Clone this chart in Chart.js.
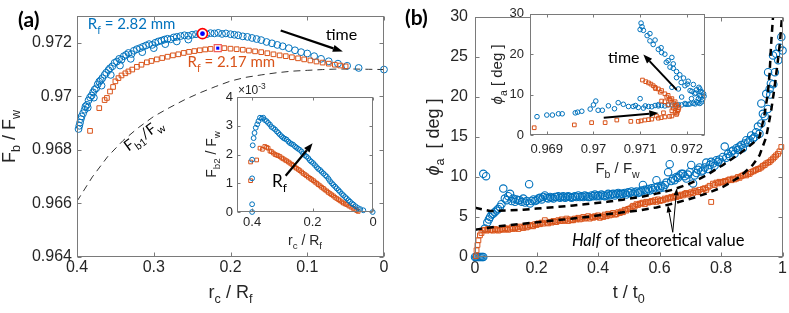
<!DOCTYPE html>
<html>
<head>
<meta charset="utf-8">
<script src="https://cdn.jsdelivr.net/npm/chart.js@4.4.0/dist/chart.umd.min.js"></script>
<style>
  html, body { margin: 0; padding: 0; background: #fff; }
  #wrap { position: relative; width: 789px; height: 313px; }
  canvas { position: absolute; left: 0; top: 0; }
</style>
</head>
<body>
<div id="wrap">
  <canvas id="chart-a" width="789" height="313"></canvas>
  <canvas id="chart-b" width="789" height="313"></canvas>
  <canvas id="inset-a" width="789" height="313"></canvas>
  <canvas id="inset-b" width="789" height="313"></canvas>
</div>
<script>
// ---- (a) F_b/F_w vs r_c/R_f ----
const rcBlue = [0.398,0.397,0.396,0.395,0.394,0.392,0.390,0.389,0.387,0.386,
  0.385,0.383,0.381,0.379,0.378,0.377,0.375,0.373,0.371,0.369,
  0.368,0.367,0.364,0.362,0.359,0.357,0.356,0.354,0.351,0.348,
  0.345,0.344,0.342,0.339,0.336,0.333,0.330,0.329,0.326,0.322,
  0.318,0.315,0.314,0.310,0.306,0.302,0.300,0.298,0.294,0.290,
  0.286,0.285,0.282,0.278,0.274,0.270,0.270,0.265,0.260,0.255,
  0.255,0.250,0.245,0.240,0.231,0.226,0.221,0.216,0.211,0.206,
  0.200,0.195,0.190,0.184,0.178,0.172,0.166,0.160,0.153,0.146,
  0.139,0.132,0.124,0.116,0.108,0.100,0.091,0.082,0.072,0.060,
  0.048,0.033,0.000];
const fbBlue = [0.96878,0.96890,0.96902,0.96915,0.96925,0.96937,0.96950,0.96962,0.96968,0.96958,
  0.96985,0.96996,0.97003,0.97015,0.96995,0.97025,0.97030,0.97045,0.97055,0.97060,
  0.97040,0.97068,0.97080,0.97088,0.97098,0.97105,0.97080,0.97112,0.97125,0.97130,
  0.97140,0.97115,0.97137,0.97150,0.97155,0.97162,0.97140,0.97158,0.97170,0.97176,
  0.97180,0.97165,0.97185,0.97190,0.97195,0.97192,0.97180,0.97200,0.97205,0.97208,
  0.97212,0.97195,0.97215,0.97213,0.97220,0.97222,0.97205,0.97225,0.97228,0.97226,
  0.97212,0.97230,0.97232,0.97233,0.97232,0.97236,0.97235,0.97237,0.97233,0.97235,
  0.97232,0.97230,0.97228,0.97224,0.97222,0.97218,0.97214,0.97210,0.97203,0.97198,
  0.97192,0.97187,0.97180,0.97172,0.97165,0.97160,0.97150,0.97140,0.97131,0.97122,
  0.97114,0.97106,0.97100];
const rcOrange = [0.383,0.371,0.364,0.361,0.357,0.353,0.350,0.346,0.342,0.337,
  0.333,0.328,0.322,0.316,0.309,0.303,0.296,0.289,0.282,0.275,
  0.268,0.261,0.254,0.247,0.240,0.233,0.226,0.208,0.200,0.192,
  0.184,0.176,0.168,0.160,0.152,0.144,0.136,0.128,0.120,0.112,
  0.104,0.096,0.088,0.080,0.072,0.064,0.057,0.050];
const fbOrange = [0.96871,0.96956,0.96986,0.96994,0.97018,0.97035,0.97056,0.97068,0.97078,0.97086,
  0.97093,0.97100,0.97110,0.97118,0.97127,0.97132,0.97138,0.97143,0.97148,0.97153,
  0.97157,0.97162,0.97166,0.97169,0.97172,0.97175,0.97177,0.97180,0.97178,0.97176,
  0.97174,0.97171,0.97168,0.97165,0.97161,0.97157,0.97153,0.97150,0.97146,0.97142,
  0.97138,0.97134,0.97130,0.97126,0.97122,0.97118,0.97115,0.97112];
const rcTheory = [0.40,0.38,0.36,0.34,0.32,0.30,0.28,0.26,0.24,0.22,0.20,0.18,0.16,0.14,0.12,0.10,0.08,0.06,0.04,0.02,0.00];
const fbTheory = [0.96608,0.96699,0.96775,0.96835,0.96883,0.96925,0.96957,0.96987,0.97013,0.97036,0.97057,
  0.97071,0.97080,0.97088,0.97094,0.97097,0.97100,0.97102,0.97102,0.97101,0.97100];
const markRc = [0.2365, 0.2166];
const markFb = [0.97234, 0.97180];
const aXTicks = [0.4, 0.3, 0.2, 0.1, 0];
const aXLabels = ['0.4', '0.3', '0.2', '0.1', '0'];
const aYTicks = [0.964, 0.966, 0.968, 0.970, 0.972];
const aYLabels = ['0.964', '0.966', '0.968', '0.97', '0.972'];

// ---- inset of (a): F_b2/F_w (x1e-3) ----
const insRcBlue = [0.4,0.4,0.4,0.4,0.398,0.395,0.392,0.388,0.383,0.379,
  0.374,0.368,0.363,0.358,0.352,0.347,0.341,0.336,0.33,0.324,
  0.318,0.313,0.308,0.302,0.297,0.292,0.286,0.28,0.275,0.27,
  0.264,0.258,0.253,0.248,0.242,0.236,0.231,0.226,0.22,0.214,
  0.209,0.204,0.198,0.192,0.186,0.181,0.175,0.17,0.164,0.158,
  0.153,0.147,0.142,0.136,0.131,0.125,0.12,0.114,0.109,0.103,
  0.098,0.092,0.087,0.081,0.076,0.07,0.065,0.058,0.05,0.042,
  0.032,0.001];
const insFb2Blue = [0,0.27,1.17,1.82,2.32,2.57,2.75,2.93,3.05,3.16,
  3.28,3.25,3.28,3.2,3.16,3.1,3.04,2.96,2.92,2.87,
  2.8,2.75,2.69,2.63,2.58,2.55,2.52,2.45,2.4,2.37,
  2.34,2.28,2.24,2.2,2.16,2.1,2.02,1.98,1.93,1.87,
  1.8,1.75,1.7,1.63,1.56,1.5,1.46,1.4,1.34,1.28,
  1.23,1.15,1.07,1.0,0.94,0.88,0.82,0.76,0.7,0.63,
  0.58,0.52,0.47,0.41,0.36,0.3,0.26,0.2,0.14,0.1,
  0.06,0];
const insRcOrange = [0.405,0.405,0.385,0.374,0.366,0.358,0.352,0.347,0.341,0.336,
  0.33,0.324,0.319,0.314,0.308,0.302,0.297,0.291,0.286,0.28,
  0.275,0.269,0.264,0.258,0.253,0.247,0.242,0.236,0.231,0.225,
  0.22,0.214,0.208,0.203,0.197,0.192,0.186,0.181,0.175,0.17,
  0.164,0.159,0.153,0.148,0.142,0.137,0.131,0.126,0.12,0.114,
  0.109,0.103,0.098,0.092,0.087,0.08,0.073,0.066,0.06,0.054,
  0.049];
const insFb2Orange = [1.09,1.74,1.81,2.22,2.18,2.28,2.25,2.22,2.12,2.1,
  2.05,2.0,1.98,1.96,1.93,1.88,1.85,1.81,1.78,1.74,
  1.7,1.66,1.62,1.56,1.52,1.48,1.44,1.39,1.34,1.3,
  1.26,1.21,1.17,1.13,1.09,1.04,1.0,0.95,0.91,0.86,
  0.82,0.77,0.73,0.68,0.64,0.6,0.56,0.51,0.47,0.43,
  0.39,0.35,0.31,0.28,0.26,0.21,0.17,0.13,0.09,0.05,
  0.02];
const insAXTicks = [0.4, 0.2, 0];
const insAXLabels = ['0.4', '0.2', '0'];
const insAYTicks = [0, 1, 2, 3, 4];
const insAYLabels = ['0', '1', '2', '3', '4'];

// ---- (b) phi_a vs t/t0 ----
const tBlue = [0,0.004,0.008,0.012,0.016,0.02,0.024,0.027,0.027,0.036,
  0.032,0.04,0.045,0.049,0.054,0.059,0.064,0.07,0.075,0.081,
  0.086,0.092,0.097,0.103,0.108,0.114,0.119,0.124,0.13,0.135,
  0.141,0.146,0.152,0.157,0.163,0.168,0.176,0.179,0.184,0.19,
  0.195,0.2,0.206,0.211,0.217,0.222,0.227,0.233,0.238,0.244,
  0.249,0.255,0.26,0.265,0.271,0.276,0.282,0.287,0.293,0.298,
  0.303,0.309,0.314,0.319,0.325,0.33,0.336,0.341,0.347,0.352,
  0.357,0.363,0.368,0.373,0.379,0.384,0.39,0.395,0.4,0.406,
  0.411,0.417,0.422,0.428,0.433,0.438,0.444,0.449,0.455,0.46,
  0.466,0.471,0.476,0.481,0.487,0.492,0.498,0.503,0.509,0.514,
  0.519,0.525,0.53,0.536,0.541,0.546,0.552,0.557,0.563,0.568,
  0.574,0.579,0.585,0.59,0.595,0.601,0.606,0.612,0.617,0.622,
  0.628,0.633,0.638,0.644,0.649,0.655,0.66,0.665,0.671,0.676,
  0.682,0.687,0.692,0.698,0.703,0.709,0.714,0.72,0.725,0.73,
  0.736,0.741,0.747,0.752,0.757,0.763,0.768,0.774,0.779,0.785,
  0.79,0.795,0.801,0.806,0.812,0.817,0.823,0.828,0.834,0.839,
  0.844,0.85,0.855,0.86,0.866,0.871,0.877,0.882,0.888,0.893,
  0.898,0.904,0.909,0.914,0.92,0.925,0.931,0.931,0.936,0.942,
  0.947,0.952,0.953,0.958,0.96,0.962,0.969,0.97,0.975,0.979,
  0.986,0.99,0.996,1.0];
const phiBlue = [0,0,0,0,0,0,0,0,10.4,10.1,
  3.55,4.3,4.7,5.0,5.3,5.4,5.6,5.8,6.0,6.25,
  6.6,8.55,7.3,7.1,7.6,7.9,7.0,7.3,6.9,7.2,
  7.1,7.1,6.9,7.3,6.8,7.0,9.1,6.7,7.0,7.2,
  7.0,7.1,7.3,7.4,7.2,7.5,7.7,7.4,7.3,7.5,
  7.4,7.3,7.5,7.5,7.6,7.4,7.5,7.6,7.4,7.5,
  7.6,7.5,7.4,7.5,7.6,7.5,7.7,7.5,7.6,7.5,
  7.7,7.6,7.5,7.5,7.7,7.6,7.8,7.6,7.7,7.6,
  7.8,7.7,7.6,7.7,7.9,7.7,7.8,7.9,7.7,7.9,
  8.0,7.8,7.9,7.9,8.0,7.8,8.1,8.0,8.2,7.9,
  8.1,8.2,8.0,8.1,8.3,9.0,8.4,8.2,8.5,8.3,
  8.6,8.4,8.7,9.6,8.8,8.6,8.9,8.7,9.0,9.3,
  10.6,11.6,9.5,9.8,9.6,10.0,9.9,10.2,10.4,10.4,
  10.1,9.8,10.3,10.6,11.5,9.2,10.2,10.5,10.9,11.2,
  10.7,10.8,11.2,11.8,11.0,11.5,11.9,11.7,11.4,12.1,
  11.9,12.2,11.8,12.5,13.8,12.4,12.9,12.6,13.2,13.3,
  12.9,13.6,13.4,13.8,14.0,13.6,14.2,14.6,14.3,14.6,
  15.2,14.8,15.0,15.6,16.3,15.4,16.7,19.2,17.9,17.6,
  20.4,18.5,23.1,21.0,20.3,21.7,25.2,21.6,23.1,25.4,
  24.6,26.2,27.5,25.8];
const tOrange = [0.003,0.005,0.008,0.011,0.016,0.021,0.027,0.032,0.038,0.043,
  0.049,0.054,0.059,0.065,0.07,0.076,0.081,0.087,0.092,0.098,
  0.103,0.108,0.114,0.119,0.124,0.13,0.135,0.141,0.146,0.152,
  0.157,0.163,0.168,0.173,0.179,0.184,0.189,0.195,0.2,0.206,
  0.211,0.217,0.222,0.227,0.233,0.238,0.244,0.249,0.255,0.26,
  0.265,0.271,0.276,0.282,0.287,0.293,0.298,0.303,0.309,0.314,
  0.319,0.325,0.33,0.336,0.341,0.347,0.352,0.357,0.363,0.368,
  0.373,0.379,0.384,0.39,0.395,0.4,0.406,0.411,0.417,0.422,
  0.428,0.433,0.438,0.444,0.449,0.455,0.46,0.466,0.471,0.476,
  0.481,0.487,0.492,0.498,0.503,0.509,0.514,0.519,0.525,0.53,
  0.536,0.541,0.546,0.552,0.557,0.563,0.568,0.574,0.579,0.585,
  0.59,0.595,0.601,0.606,0.611,0.617,0.622,0.628,0.633,0.638,
  0.644,0.649,0.655,0.66,0.665,0.671,0.676,0.682,0.687,0.692,
  0.698,0.703,0.709,0.714,0.72,0.725,0.73,0.736,0.741,0.747,
  0.752,0.757,0.763,0.768,0.774,0.779,0.785,0.79,0.795,0.801,
  0.806,0.812,0.817,0.823,0.828,0.834,0.839,0.844,0.85,0.855,
  0.86,0.866,0.871,0.877,0.882,0.888,0.893,0.898,0.904,0.909,
  0.914,0.92,0.925,0.931,0.936,0.942,0.947,0.953,0.958,0.963,
  0.969,0.974,0.979,0.985,0.99,0.996];
const phiOrange = [0.1,0.84,1.5,2.09,2.71,3.0,3.34,3.4,3.3,3.5,
  3.34,3.4,3.3,3.5,3.4,3.3,3.42,3.5,3.4,3.6,
  3.5,3.4,3.55,3.7,3.5,3.6,3.7,3.5,3.8,3.7,
  3.63,3.9,3.7,3.8,4.0,3.9,3.84,4.1,4.0,4.2,
  4.1,4.3,4.17,4.6,4.3,4.2,4.4,4.3,4.5,4.4,
  4.38,4.6,4.5,4.7,4.5,4.6,4.8,4.5,4.7,4.6,
  4.59,4.8,4.7,4.9,4.7,4.8,5.0,4.8,4.9,5.1,
  4.8,5.0,4.9,5.1,5.0,5.2,4.9,5.1,5.0,5.3,
  5.1,5.4,5.2,5.3,5.5,5.3,5.34,5.6,5.5,5.7,
  5.6,5.9,5.8,6.0,6.05,6.2,6.4,6.3,6.6,6.5,
  6.67,6.7,6.8,6.6,6.9,6.8,6.88,7.0,6.9,7.1,
  6.9,7.2,7.0,7.1,7.09,7.3,7.2,7.4,7.3,7.5,
  7.4,7.6,7.5,7.7,7.6,7.8,7.7,7.9,8.0,7.8,
  7.92,8.1,8.0,8.3,8.2,8.1,8.4,8.13,8.5,8.6,
  8.4,8.7,8.9,6.88,9.17,9.0,9.3,9.2,9.4,9.3,
  9.38,9.5,9.4,9.6,9.7,9.6,9.8,9.7,9.8,10.0,
  9.9,10.1,10.2,10.3,10.2,10.4,10.4,10.6,10.7,10.8,
  10.9,11.0,11.05,11.2,11.4,11.5,11.7,11.8,11.9,12.1,
  12.3,12.5,12.7,12.9,13.2,13.75];
const tHalfUpper = [0,0.049,0.1,0.157,0.2,0.265,0.32,0.373,0.43,0.481,0.54,0.59,0.644,0.698,0.752,0.806,0.86,0.903,0.925,0.94,0.952,0.958,0.963,0.969];
const phiHalfUpper = [6.17,5.75,5.8,5.92,6.05,6.25,6.45,6.67,6.9,7.17,7.5,7.92,8.42,9.17,10.2,11.5,12.9,14.2,15.0,17.5,20.4,23.0,26.7,30];
const tHalfLower = [0,0.05,0.103,0.157,0.211,0.265,0.319,0.373,0.428,0.481,0.536,0.59,0.644,0.698,0.752,0.806,0.86,0.903,0.925,0.947,0.963,0.975,0.985,0.992,0.998];
const phiHalfLower = [3.42,3.7,3.96,4.17,4.38,4.59,4.8,5.05,5.34,5.58,5.84,6.2,6.67,7.25,7.92,8.75,10.0,11.5,12.7,15.0,18.3,21.5,24.6,27.0,30];
const bXTicks = [0, 0.2, 0.4, 0.6, 0.8, 1];
const bXLabels = ['0', '0.2', '0.4', '0.6', '0.8', '1'];
const bYTicks = [0, 5, 10, 15, 20, 25, 30];
const bYLabels = ['0', '5', '10', '15', '20', '25', '30'];

// ---- inset of (b): phi_a vs F_b/F_w ----
const insFbBlue = [0.96879,0.969,0.96912,0.96925,0.96933,0.96961,0.96966,0.96975,0.96993,0.97,
  0.97005,0.9701,0.97019,0.97032,0.97045,0.97053,0.97064,0.97075,0.97085,0.97096,
  0.971,0.97107,0.97118,0.97132,0.97146,0.9716,0.97175,0.97189,0.97203,0.97214,
  0.97221,0.97225,0.97228,0.9723,0.97226,0.97221,0.97214,0.97207,0.97203,0.97193,
  0.97196,0.97185,0.97178,0.97171,0.97171,0.97168,0.9716,0.97153,0.97146,0.97145,
  0.97132,0.97121,0.97121,0.97107,0.971,0.97102,0.97168,0.97182,0.97189,0.9721,
  0.97232,0.97125,0.97139,0.97153,0.97196,0.97217,0.97229,0.97236,0.97234,0.97237,
  0.97233,0.97228,0.97219,0.97211,0.97224,0.97228,0.97218,0.97207,0.97198,0.97182,
  0.97168,0.97139,0.97111,0.9709,0.97201,0.97188,0.97178,0.97164,0.97156,0.97139,
  0.97128,0.97115,0.97104];
const insPhiBlue = [4.54,4.94,4.94,5.25,5.25,5.48,5.65,5.88,6.42,7.45,
  8.4,6.12,6.12,7.22,6.5,8.0,7.6,7.06,7.06,6.82,
  9.0,6.66,7.06,7.3,7.3,7.45,7.45,7.45,7.6,7.84,
  8.24,9.0,9.8,10.75,11.8,11.2,12.5,11.0,13.3,14.1,
  12.2,14.9,15.7,16.5,17.6,19.2,18.4,20.0,20.4,21.6,
  23.5,23.3,25.1,25.9,26.1,27.7,11.8,11.4,9.4,9.0,
  8.2,7.0,7.5,7.2,7.8,10.2,9.4,10.2,8.8,9.6,
  10.6,11.4,10.4,10.8,8.0,7.8,7.7,7.7,7.6,7.5,
  7.4,7.2,7.2,7.3,12.6,13.0,14.2,16.8,18.0,21.2,
  22.4,24.6,26.8];
const insFbOrange = [0.96873,0.96959,0.96996,0.97025,0.9705,0.9708,0.97096,0.9711,0.97125,0.97139,
  0.97153,0.97168,0.97178,0.97182,0.97178,0.97175,0.97168,0.9716,0.97153,0.97146,
  0.97139,0.97128,0.97118,0.97105,0.97171,0.9716,0.97153,0.97146,0.97168,0.9715,
  0.97135,0.97175,0.9718,0.97165,0.97112,0.97132,0.97179,0.97183,0.97176,0.97172,
  0.97163,0.97157,0.97143,0.97133,0.97123,0.97163,0.97145,0.97118,0.97102];
const insPhiOrange = [1.8,2.5,3.06,3.06,3.7,3.37,3.37,3.7,3.93,4.16,
  4.47,4.7,5.1,6.28,7.45,8.24,9.0,9.8,10.2,11.0,
  11.4,12.2,12.9,13.6,6.66,7.45,8.24,8.4,6.0,5.5,
  4.7,5.6,5.9,8.6,13.2,11.8,5.4,6.8,7.0,7.9,
  8.9,9.4,10.6,11.5,12.6,4.6,4.3,3.8,3.5];
const insBXTicks = [0.969, 0.970, 0.971, 0.972];
const insBXLabels = ['0.969', '0.97', '0.971', '0.972'];
const insBYTicks = [0, 10, 20, 30];
const insBYLabels = ['0', '10', '20', '30'];

document.addEventListener('DOMContentLoaded', function() {
    const W = 789, H = 313;
    const BLUE = '#0072BD', ORANGE = '#D95319', INK = '#262626';
    const SANS = '"Liberation Sans", Arial, sans-serif';
    const CAL = 'Lato, "Open Sans", sans-serif';

    function pts(xs, ys) {
        return xs.map((x, i) => ({ x: x, y: ys[i] }));
    }

    // text with sub/superscripts and italics: parts = [[text, kind]]
    function drawRich(ctx, parts, x, y, o) {
        const size = o.size;
        const fontFor = k => {
            const s = (k === 'sub' || k === 'sup') ? size * 0.7 : size;
            const st = (k === 'i' || o.italic) ? 'italic ' : '';
            return st + (o.weight || 'normal') + ' ' + s + 'px ' + o.family;
        };
        let w = 0;
        parts.forEach(p => { ctx.font = fontFor(p[1]); w += ctx.measureText(p[0]).width; });
        let cx = o.align === 'center' ? x - w / 2 : x;
        ctx.fillStyle = o.color || INK;
        ctx.textAlign = 'left';
        ctx.textBaseline = 'alphabetic';
        parts.forEach(p => {
            ctx.font = fontFor(p[1]);
            const dy = p[1] === 'sub' ? size * 0.3 : (p[1] === 'sup' ? -size * 0.4 : 0);
            ctx.fillText(p[0], cx, y + dy);
            cx += ctx.measureText(p[0]).width;
        });
    }

    function drawRotated(ctx, parts, x, y, angle, o) {
        ctx.save();
        ctx.translate(x, y);
        ctx.rotate(angle);
        drawRich(ctx, parts, 0, 0, Object.assign({ align: 'center' }, o));
        ctx.restore();
    }

    function arrow(ctx, x1, y1, x2, y2, lw, hl, hw) {
        const a = Math.atan2(y2 - y1, x2 - x1);
        const bx = x2 - hl * Math.cos(a), by = y2 - hl * Math.sin(a);
        ctx.save();
        ctx.strokeStyle = '#000';
        ctx.fillStyle = '#000';
        ctx.lineWidth = lw;
        ctx.beginPath();
        ctx.moveTo(x1, y1);
        ctx.lineTo(bx, by);
        ctx.stroke();
        ctx.beginPath();
        ctx.moveTo(x2, y2);
        ctx.lineTo(bx + hw / 2 * Math.sin(a), by - hw / 2 * Math.cos(a));
        ctx.lineTo(bx - hw / 2 * Math.sin(a), by + hw / 2 * Math.cos(a));
        ctx.closePath();
        ctx.fill();
        ctx.restore();
    }

    function scaleOpts(s, isX, size) {
        return {
            type: 'linear', min: s.min, max: s.max, reverse: !!s.reverse,
            grid: { display: false, drawTicks: false },
            border: { display: false },
            ticks: {
                padding: s.pad, color: INK, maxRotation: 0, autoSkip: false,
                font: { family: SANS, size: s.font },
                callback: (v, i) => s.labels[i]
            },
            afterBuildTicks: sc => { sc.ticks = s.ticks.map(v => ({ value: v })); },
            afterFit: sc => { if (isX) sc.height = size; else sc.width = size; }
        };
    }

    // MATLAB-like box with inward ticks on all sides
    function framePlugin(tickLen, whiteFill) {
        return {
            id: 'frame',
            beforeDraw(chart) {
                if (!whiteFill) return;
                const a = chart.chartArea;
                chart.ctx.save();
                chart.ctx.fillStyle = '#fff';
                chart.ctx.fillRect(a.left, a.top, a.right - a.left, a.bottom - a.top);
                chart.ctx.restore();
            },
            afterDatasetsDraw(chart) {
                const { ctx, chartArea: a, scales } = chart;
                const L = Math.round(a.left) + 0.5, R = Math.round(a.right) - 0.5;
                const T = Math.round(a.top) + 0.5, B = Math.round(a.bottom) - 0.5;
                ctx.save();
                ctx.strokeStyle = '#7a7a7a';
                ctx.lineWidth = 1;
                ctx.strokeRect(L, T, R - L, B - T);
                ctx.beginPath();
                scales.x.ticks.forEach(t => {
                    const p = Math.round(scales.x.getPixelForValue(t.value)) + 0.5;
                    ctx.moveTo(p, B); ctx.lineTo(p, B - tickLen);
                    ctx.moveTo(p, T); ctx.lineTo(p, T + tickLen);
                });
                scales.y.ticks.forEach(t => {
                    const p = Math.round(scales.y.getPixelForValue(t.value)) + 0.5;
                    ctx.moveTo(L, p); ctx.lineTo(L + tickLen, p);
                    ctx.moveTo(R, p); ctx.lineTo(R - tickLen, p);
                });
                ctx.stroke();
                ctx.restore();
            }
        };
    }

    function buildChart(id, cfg) {
        const b = cfg.box;
        return new Chart(document.getElementById(id), {
            type: 'scatter',
            data: { datasets: cfg.datasets },
            options: {
                responsive: false,
                animation: false,
                devicePixelRatio: 1,
                layout: { padding: { left: b.left - b.yw, right: W - b.right, top: b.top, bottom: H - b.bottom - b.xh } },
                plugins: { legend: { display: false }, tooltip: { enabled: false } },
                scales: { x: scaleOpts(cfg.x, true, b.xh), y: scaleOpts(cfg.y, false, b.yw) }
            },
            plugins: [framePlugin(cfg.tick, cfg.white), { id: 'notes', afterDraw: cfg.notes }]
        });
    }

    function markers(data, color, style, r, lw) {
        return { data: data, pointStyle: style, pointRadius: r, borderColor: color, borderWidth: lw || 1,
                 backgroundColor: 'rgba(0,0,0,0)', showLine: false, clip: 10 };
    }

    function dashed(data, color, lw, dash) {
        return { data: data, showLine: true, pointRadius: 0, borderColor: color, borderWidth: lw,
                 borderDash: dash, fill: false, tension: 0, clip: 0 };
    }

    // Panel (a)
    function createPanelA() {
        buildChart('chart-a', {
            box: { left: 77, right: 384, top: 16, bottom: 257, yw: 70, xh: 50 },
            x: { min: 0, max: 0.4, reverse: true, ticks: aXTicks, labels: aXLabels, pad: 1, font: 16 },
            y: { min: 0.964, max: 0.973, ticks: aYTicks, labels: aYLabels, pad: 5, font: 16 },
            tick: 4,
            datasets: [
                { data: [{ x: markRc[0], y: markFb[0] }], pointStyle: 'circle', pointRadius: 2.4,
                  backgroundColor: '#0000FF', borderWidth: 0, clip: 10 },
                { data: [{ x: markRc[0], y: markFb[0] }], pointStyle: 'circle', pointRadius: 5,
                  backgroundColor: '#fff', borderColor: '#FF0000', borderWidth: 1.6, clip: 10 },
                { data: [{ x: markRc[1], y: markFb[1] }], pointStyle: 'rect', pointRadius: 2.2,
                  backgroundColor: '#0000FF', borderWidth: 0, clip: 10 },
                { data: [{ x: markRc[1], y: markFb[1] }], pointStyle: 'rect', pointRadius: 5,
                  backgroundColor: '#fff', borderColor: '#F05A5A', borderWidth: 1.2, clip: 10 },
                markers(pts(rcOrange, fbOrange), ORANGE, 'rect', 3.3),
                markers(pts(rcBlue, fbBlue), BLUE, 'circle', 3.4),
                dashed(pts(rcTheory, fbTheory), '#333', 1, [7, 5])
            ],
            notes(chart) {
                const { ctx, chartArea: a, scales: { x, y } } = chart;
                const P = (u, v) => [x.getPixelForValue(u), y.getPixelForValue(v)];
                drawRich(ctx, [['(a)', '']], 18, 27, { size: 21, family: CAL, weight: 'bold', color: '#000' });
                let p = P(0.386, 0.9725);
                drawRich(ctx, [['R', ''], ['f', 'sub'], [' = 2.82 mm', '']], p[0], p[1], { size: 15, family: CAL, color: BLUE });
                p = P(0.256, 0.97109);
                drawRich(ctx, [['R', ''], ['f', 'sub'], [' = 2.17 mm', '']], p[0], p[1], { size: 15, family: CAL, color: ORANGE });
                p = P(0.076, 0.97209);
                drawRich(ctx, [['time', '']], p[0], p[1], { size: 16, family: CAL, color: '#000' });
                const s = P(0.1346, 0.97246), e = P(0.0536, 0.97167);
                arrow(ctx, s[0], s[1], e[0], e[1], 2.2, 10, 7);
                p = P(0.3137, 0.96856);
                ctx.save();
                ctx.translate(p[0], p[1]);
                ctx.rotate(-36 * Math.PI / 180);
                drawRich(ctx, [['F', ''], ['b1', 'sub'], ['/F', ''], ['w', 'sub']], 0, 5, { size: 15, family: CAL, color: '#000', align: 'center' });
                ctx.restore();
                const cx = (a.left + a.right) / 2, cy = (a.top + a.bottom) / 2;
                drawRich(ctx, [['r', ''], ['c', 'sub'], [' / R', ''], ['f', 'sub']], cx, a.bottom + 41, { size: 18, family: SANS, align: 'center' });
                drawRotated(ctx, [['F', ''], ['b', 'sub'], [' / F', ''], ['w', 'sub']], a.left - 62, cy, -Math.PI / 2, { size: 18, family: SANS });
            }
        });
    }

    // Inset of (a)
    function createInsetA() {
        buildChart('inset-a', {
            box: { left: 237, right: 373, top: 97, bottom: 212, yw: 20, xh: 20 },
            x: { min: 0, max: 0.45, reverse: true, ticks: insAXTicks, labels: insAXLabels, pad: 3, font: 13 },
            y: { min: 0, max: 4, ticks: insAYTicks, labels: insAYLabels, pad: 4, font: 13 },
            tick: 3,
            white: true,
            datasets: [
                markers(pts(insRcBlue, insFb2Blue), BLUE, 'circle', 2.4),
                markers(pts(insRcOrange, insFb2Orange), ORANGE, 'rect', 2.6)
            ],
            notes(chart) {
                const { ctx, chartArea: a, scales: { x, y } } = chart;
                const P = (u, v) => [x.getPixelForValue(u), y.getPixelForValue(v)];
                let p = P(0.447, 4.11);
                drawRich(ctx, [['\u00d710', ''], ['-3', 'sup']], p[0], p[1], { size: 12, family: SANS });
                const s = P(0.289, 1.26), e = P(0.2, 2.39);
                arrow(ctx, s[0], s[1], e[0], e[1], 2.2, 9, 7);
                p = P(0.334, 0.86);
                drawRich(ctx, [['R', ''], ['f', 'sub']], p[0], p[1], { size: 17, family: CAL, color: '#000' });
                const cx = (a.left + a.right) / 2, cy = (a.top + a.bottom) / 2;
                drawRich(ctx, [['r', ''], ['c', 'sub'], [' / R', ''], ['f', 'sub']], cx, a.bottom + 33, { size: 14, family: SANS, align: 'center' });
                drawRotated(ctx, [['F', ''], ['b2', 'sub'], [' / F', ''], ['w', 'sub']], a.left - 21, cy, -Math.PI / 2, { size: 14, family: SANS });
            }
        });
    }

    // Panel (b)
    function createPanelB() {
        buildChart('chart-b', {
            box: { left: 475, right: 783, top: 17, bottom: 257, yw: 40, xh: 50 },
            x: { min: 0, max: 1, ticks: bXTicks, labels: bXLabels, pad: 2, font: 16 },
            y: { min: 0, max: 30, ticks: bYTicks, labels: bYLabels, pad: 7, font: 16 },
            tick: 4,
            datasets: [
                dashed(pts(tHalfUpper, phiHalfUpper), '#000', 2.5, [7, 5]),
                dashed(pts(tHalfLower, phiHalfLower), '#000', 2.5, [7, 5]),
                markers(pts(tOrange, phiOrange), ORANGE, 'rect', 3.4),
                markers(pts(tBlue, phiBlue), BLUE, 'circle', 3.7, 1.1)
            ],
            notes(chart) {
                const { ctx, chartArea: a, scales: { x, y } } = chart;
                const P = (u, v) => [x.getPixelForValue(u), y.getPixelForValue(v)];
                drawRich(ctx, [['(b)', '']], 405, 25, { size: 21, family: CAL, weight: 'bold', color: '#000' });
                let p = P(0.315, 1.34);
                drawRich(ctx, [['Half', 'i'], [' of theoretical value', '']], p[0], p[1], { size: 16.5, family: CAL, color: '#000' });
                const s = P(0.643, 3.09), e1 = P(0.627, 6.46), e2 = P(0.656, 8.59);
                arrow(ctx, s[0], s[1], e1[0], e1[1], 1, 7, 5);
                arrow(ctx, s[0], s[1], e2[0], e2[1], 1, 7, 5);
                const cx = (a.left + a.right) / 2, cy = (a.top + a.bottom) / 2;
                drawRich(ctx, [['t / t', ''], ['0', 'sub']], cx, a.bottom + 41, { size: 18, family: SANS, align: 'center' });
                drawRotated(ctx, [['\u03d5', 'i'], ['a', 'sub'], ['  [ deg ]', '']], a.left - 36, cy, -Math.PI / 2, { size: 18, family: SANS });
            }
        });
    }

    // Inset of (b)
    function createInsetB() {
        buildChart('inset-b', {
            box: { left: 530, right: 705, top: 7, bottom: 135, yw: 25, xh: 25 },
            x: { min: 0.96864, max: 0.97239, ticks: insBXTicks, labels: insBXLabels, pad: 7, font: 13 },
            y: { min: 0, max: 30, ticks: insBYTicks, labels: insBYLabels, pad: 6, font: 13 },
            tick: 3,
            white: true,
            datasets: [
                markers(pts(insFbOrange, insPhiOrange), ORANGE, 'rect', 2.6),
                markers(pts(insFbBlue, insPhiBlue), BLUE, 'circle', 2.3)
            ],
            notes(chart) {
                const { ctx, chartArea: a, scales: { x, y } } = chart;
                const P = (u, v) => [x.getPixelForValue(u), y.getPixelForValue(v)];
                let p = P(0.970313, 17.8);
                drawRich(ctx, [['time', '']], p[0], p[1], { size: 16, family: CAL, color: '#000' });
                let s = P(0.971784, 11.17), e = P(0.971069, 19.9);
                arrow(ctx, s[0], s[1], e[0], e[1], 2, 9, 7);
                s = P(0.97022, 4.29); e = P(0.97139, 5.46);
                arrow(ctx, s[0], s[1], e[0], e[1], 2, 9, 7);
                const cx = (a.left + a.right) / 2, cy = (a.top + a.bottom) / 2;
                drawRich(ctx, [['F', ''], ['b', 'sub'], [' / F', ''], ['w', 'sub']], cx, a.bottom + 38, { size: 15, family: SANS, align: 'center' });
                drawRotated(ctx, [['\u03d5', 'i'], ['a', 'sub'], [' [ deg ]', '']], a.left - 28, cy, -Math.PI / 2, { size: 15, family: SANS });
            }
        });
    }

    createPanelA();
    createPanelB();
    createInsetA();
    createInsetB();
});
</script>
</body>
</html>
